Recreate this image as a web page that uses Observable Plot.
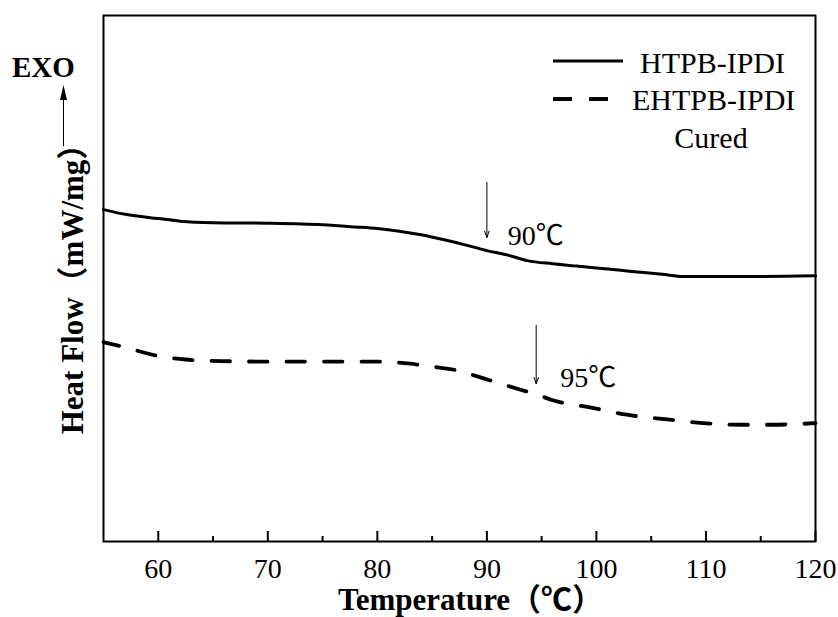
<!DOCTYPE html>
<html><head><meta charset="utf-8">
<script src="https://cdn.jsdelivr.net/npm/d3@7"></script>
<script src="https://cdn.jsdelivr.net/npm/@observablehq/plot@0.6"></script>
<style>body{margin:0;background:#fff} #chart svg{display:block;overflow:visible}</style>
</head><body><div id="chart"></div>
<script>
// ---- data (heat flow in arbitrary units, exo up) ----
const seriesNames = ["HTPB-IPDI", "EHTPB-IPDI"];
const htpbT  = [55, 57, 60, 62, 65, 70, 75, 78, 80, 82, 84, 86, 88, 90, 92, 93.7, 96, 98, 100, 102, 104, 106, 108, 110, 115, 120];
const htpbHF = [63.1, 62.2, 61.4, 60.9, 60.6, 60.5, 60.2, 59.8, 59.5, 59.0, 58.3, 57.4, 56.4, 55.3, 54.4, 53.4, 52.8, 52.4, 52.0, 51.6, 51.2, 50.8, 50.4, 50.4, 50.4, 50.5];
const ehtpbT  = [55, 57, 59.7, 62.5, 65.7, 70, 75, 79.8, 83, 85.5, 86.9, 89.7, 93, 94.6, 96.1, 99.4, 102.8, 106.5, 109.7, 113.1, 116, 120];
const ehtpbHF = [37.9, 36.9, 35.4, 34.6, 34.3, 34.2, 34.2, 34.2, 33.8, 33.1, 32.7, 31.0, 28.9, 27.9, 26.8, 25.5, 24.1, 23.2, 22.5, 22.2, 22.2, 22.5];
const majorTicks = [60, 70, 80, 90, 100, 110, 120];
const minorTicks = [65, 75, 85, 95, 105, 115];
const tgLabels = ["90℃", "95℃"];
const tgTemps  = [90, 94.5];
const arrowTop = [68.3, 41.1];
const arrowTip = [57.8, 30.0];
const labelT   = [91.9, 96.7];
const labelHF  = [56.3, 29.3];
const legendNote = "Cured";
const xTitle = "Temperature（℃）";
const yTitle = "Heat Flow（mW/mg）";
const exoText = "EXO";

const htpb = htpbT.map((t, i) => ({t, hf: htpbHF[i]}));
const ehtpb = ehtpbT.map((t, i) => ({t, hf: ehtpbHF[i]}));
const tg = tgLabels.map((label, i) => ({label, t: tgTemps[i], y1: arrowTop[i], y2: arrowTip[i], lt: labelT[i], lh: labelHF[i]}));

const serif = "'Liberation Serif', 'Noto Sans CJK SC', serif";

const chart = Plot.plot({
  width: 838, height: 617,
  marginLeft: 103, marginRight: 23, marginTop: 15, marginBottom: 76,
  style: {fontFamily: serif, fontSize: "28px", color: "#000", background: "#fff"},
  x: {domain: [55, 120]},
  y: {domain: [0, 100], axis: null},
  marks: [
    Plot.frame({stroke: "#000", strokeWidth: 2}),
    Plot.axisX({ticks: majorTicks, tickSize: 10, dy: -10, strokeWidth: 2, text: null, label: null}),
    Plot.axisX({ticks: minorTicks, tickSize: 5, dy: -5, strokeWidth: 2, text: null, label: null}),
    Plot.axisX({ticks: majorTicks, tickSize: 0, tickPadding: 17, fontSize: 28, label: null, tickFormat: d => String(d)}),
    Plot.line(htpb, {x: "t", y: "hf", stroke: "#000", strokeWidth: 3, curve: "monotone-x"}),
    Plot.line(ehtpb, {x: "t", y: "hf", stroke: "#000", strokeWidth: 3.8, strokeDasharray: "18.5,19", strokeDashoffset: 2.5, curve: "monotone-x"}),
    Plot.arrow(tg, {x1: "t", x2: "t", y1: "y1", y2: "y2", stroke: "#000", strokeWidth: 1, headLength: 10, headAngle: 40}),
    Plot.text(tg, {x: "lt", y: "lh", text: "label", textAnchor: "start", lineAnchor: "bottom", fontSize: 28}),
    Plot.text([xTitle], {frameAnchor: "bottom", textAnchor: "middle", dy: 68, dx: 11, lineAnchor: "bottom", fontSize: 31, fontWeight: "bold"}),
    Plot.text([yTitle], {frameAnchor: "left", textAnchor: "middle", rotate: -90, dx: -21, dy: 3, lineAnchor: "bottom", fontSize: 31, fontWeight: "bold"})
  ]
});
document.getElementById("chart").appendChild(chart);

// legend, EXO marker (decorations in pixel space)
const svg = d3.select(chart);
const g = svg.append("g").attr("font-family", serif).attr("fill", "#000").attr("text-anchor", "start");
g.append("line").attr("x1", 553).attr("x2", 623).attr("y1", 61).attr("y2", 61).attr("stroke", "#000").attr("stroke-width", 3);
g.append("line").attr("x1", 553).attr("x2", 623).attr("y1", 99).attr("y2", 99).attr("stroke", "#000").attr("stroke-width", 3.8).attr("stroke-dasharray", "19,17");
g.append("text").attr("x", 640).attr("y", 73).attr("font-size", 30).text(seriesNames[0]);
g.append("text").attr("x", 632).attr("y", 110).attr("font-size", 30).text(seriesNames[1]);
g.append("text").attr("x", 711).attr("y", 148).attr("font-size", 30).attr("text-anchor", "middle").text(legendNote);
g.append("text").attr("x", 12).attr("y", 77).attr("font-size", 29).attr("font-weight", "bold").text(exoText);
g.append("line").attr("x1", 63.5).attr("x2", 63.5).attr("y1", 146).attr("y2", 96).attr("stroke", "#000").attr("stroke-width", 1);
g.append("path").attr("d", "M63.5,85 L60,100 L67,100 Z").attr("fill", "#000");
</script></body></html>
